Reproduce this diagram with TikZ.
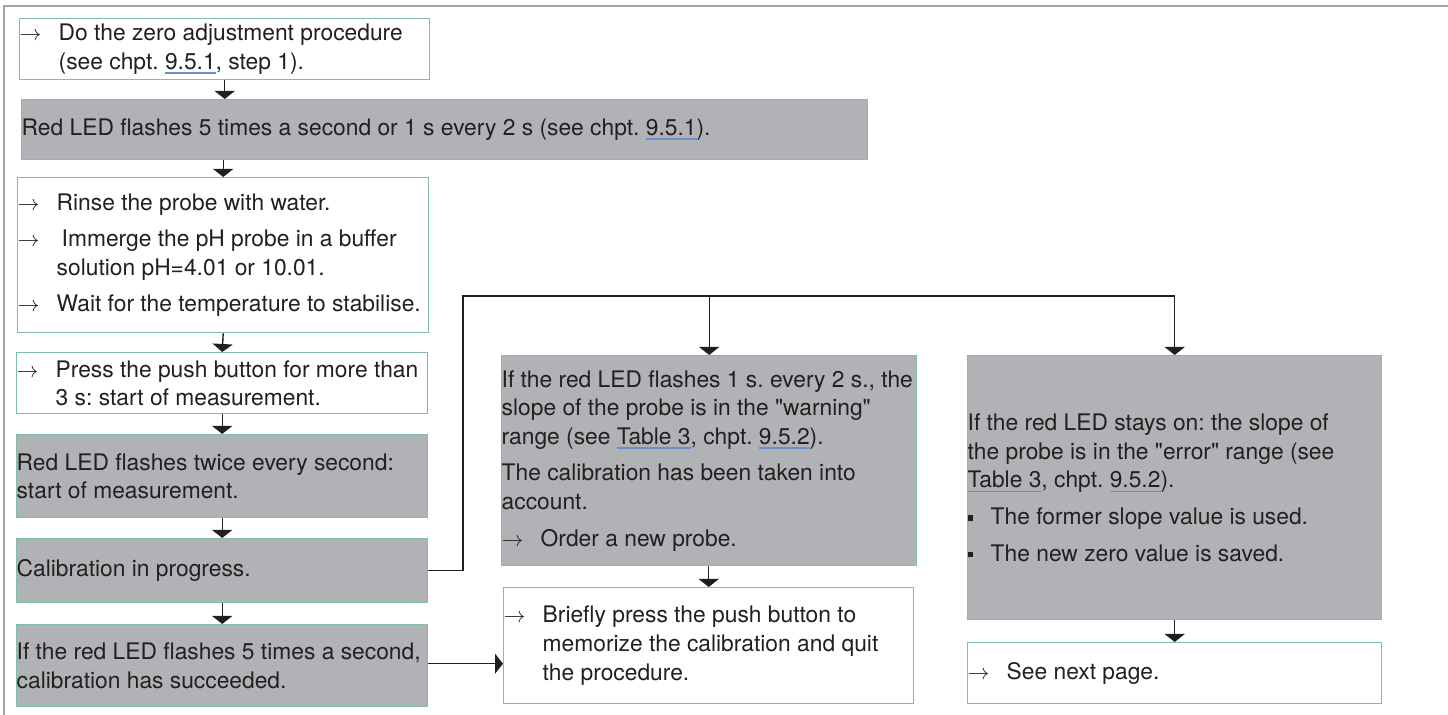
\documentclass[tikz,border=0pt]{standalone}
\usepackage{fontspec}
\setmainfont{TeX Gyre Heros}[Ligatures=TeXOff]
\usepackage{xcolor}
\usepackage{tikz}
\usetikzlibrary{positioning,calc,arrows.meta}

\definecolor{ink}{RGB}{35,31,32}
\definecolor{boxgray}{RGB}{177,178,181}
\definecolor{boxline}{RGB}{128,190,168}
\definecolor{linkblue}{RGB}{106,143,200}
\definecolor{framegray}{RGB}{165,165,165}

% arrow bullet, hanging indent, square bullet and link underline
\newcommand{\arr}{\makebox[19.5pt][l]{$\rightarrow$}}
\newcommand{\ind}{\hspace*{19.5pt}}
\newcommand{\blt}{\makebox[11.5pt][l]{\rule[1.8pt]{2.8pt}{2.8pt}}}
\newsavebox{\lnkbox}
\newcommand{\lnk}[1]{\leavevmode\sbox\lnkbox{#1}\rlap{\color{linkblue}\rule[-2.2pt]{\wd\lnkbox}{0.8pt}}\usebox\lnkbox}

\tikzset{
  stepbox/.style={rectangle, draw=boxline, line width=0.7pt, anchor=north west,
    inner xsep=0pt, inner ysep=0pt, align=flush left, text=ink,
    font=\fontsize{11.4}{14.3}\selectfont\frenchspacing},
  whitebox/.style={stepbox, fill=white},
  graybox/.style={stepbox, fill=boxgray},
  flow/.style={draw=ink, line width=0.7pt, -{Triangle[width=10pt,length=4pt]}},
}

\begin{document}
\begin{tikzpicture}[x=0.5pt, y=-0.5pt]
  \useasboundingbox (0,0) rectangle (1448,715);

  % Page frame (top and left edge)
  \draw[framegray, line width=1pt] (4,715) -- (4,6) -- (1448,6);

  % Left column
  \node[whitebox, text width=205pt, minimum height=30.5pt] (zero) at (19,18)
    {\arr Do the zero adjustment procedure\\\ind(see chpt. \lnk{9.5.1}, step 1).};
  \node[graybox, text width=423pt, minimum height=30pt] (flash) at (21,99)
    {Red LED flashes 5 times a second or 1 s every 2 s (see chpt. \lnk{9.5.1}).};
  \node[whitebox, text width=205.5pt, minimum height=77.5pt] (rinse) at (17,177)
    {\arr Rinse the probe with water.\\[4pt]\arr\hspace{2.5pt}Immerge the pH probe in a buffer\\\ind solution pH=4.01 or 10.01.\\[4pt]\arr Wait for the temperature to stabilise.};
  \node[whitebox, text width=205.5pt, minimum height=30.5pt] (press) at (16,352)
    {\arr Press the push button for more than\\\ind 3 s: start of measurement.};
  \node[graybox, text width=205.5pt, minimum height=41.5pt] (twice) at (16,434)
    {Red LED flashes twice every second:\\start of measurement.};
  \node[graybox, text width=205.5pt, minimum height=32pt] (calib) at (16,538)
    {Calibration in progress.};
  \node[graybox, text width=205.5pt, minimum height=41pt] (success) at (16,624)
    {If the red LED flashes 5 times a second,\\calibration has succeeded.};

  % Warning branch
  \node[graybox, text width=207.5pt, minimum height=105pt] (warn) at (501,355)
    {\mbox{If the red LED flashes 1 s. every 2 s., the}\\slope of the probe is in the "warning"\\range (see \lnk{Table 3}, chpt. \lnk{9.5.2}).\\[4pt]The calibration has been taken into\\account.\\[4pt]\arr Order a new probe.};
  \node[whitebox, text width=205pt, minimum height=58pt] (memo) at (503,587)
    {\arr Briefly press the push button to\\\ind memorize the calibration and quit\\\ind the procedure.};

  % Error branch
  \node[graybox, text width=207pt, minimum height=132pt] (error) at (967,355)
    {If the red LED stays on: the slope of\\the probe is in the "error" range (see\\\lnk{Table 3}, chpt. \lnk{9.5.2}).\\[4pt]\blt The former slope value is used.\\[4pt]\blt The new zero value is saved.};
  \node[whitebox, text width=207pt, minimum height=30.5pt] (next) at (967,642)
    {\arr See next page.};

  % Connectors
  \coordinate (split) at (463,296);
  \draw[flow] (zero.south) -- (zero.south |- flash.north);
  \draw[flow] (flash.south -| rinse.north) -- (rinse.north);
  \draw[flow] (rinse.south) -- (press.north);
  \draw[flow] (press.south) -- (twice.north);
  \draw[flow] (twice.south) -- (calib.north);
  \draw[flow] (calib.south) -- (success.north);
  \draw[flow] (calib.east) -| (split) -| (error.north);
  \draw[flow] (split -| warn.north) -- (warn.north);
  \draw[flow] ($(success.east)+(0,-2)$) -- ($(success.east -| memo.west)+(0,-2)$);
  \draw[flow] (warn.south -| memo.north) -- (memo.north);
  \draw[flow] (error.south) -- (next.north);
\end{tikzpicture}
\end{document}
